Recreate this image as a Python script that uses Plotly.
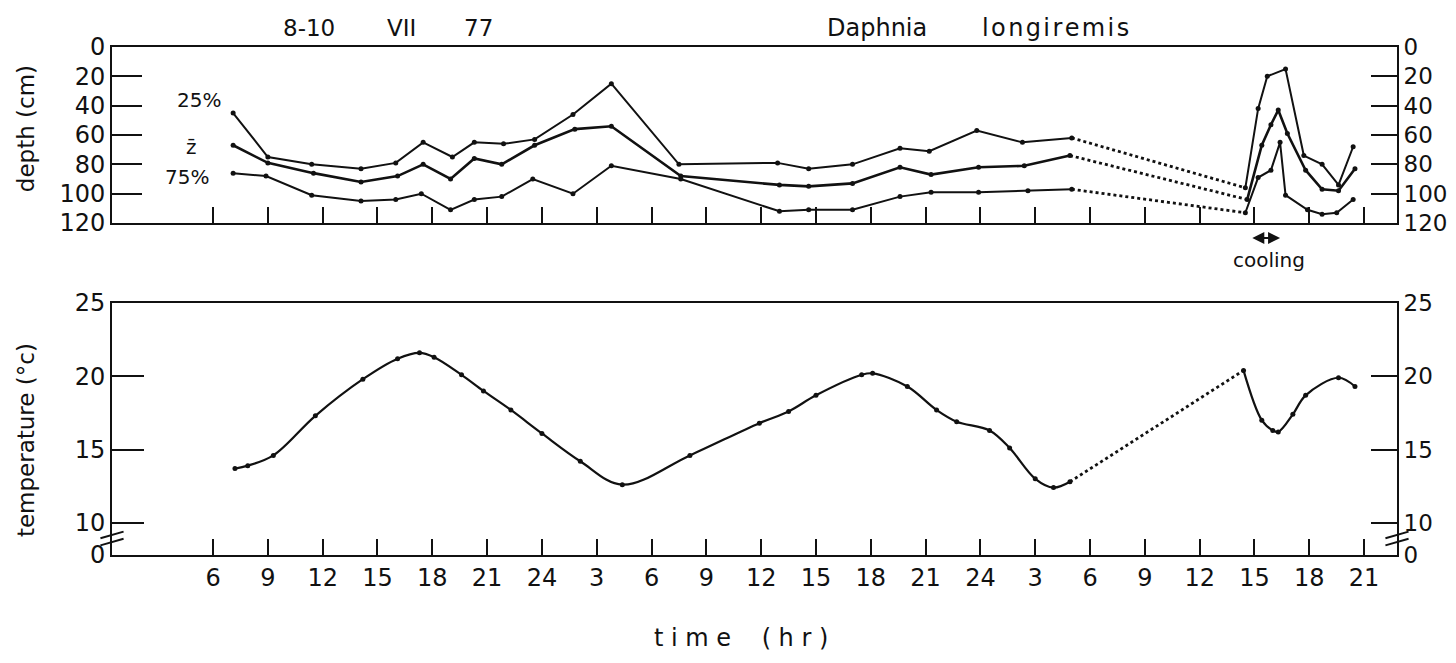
import plotly.graph_objects as go

# time axis: hours counted from 0:00 on 8 VII
tick_hours = [6, 9, 12, 15, 18, 21, 24, 27, 30, 33, 36, 39, 42, 45, 48, 51, 54, 57, 60, 63, 66, 69]
tick_labels = ['6', '9', '12', '15', '18', '21', '24', '3', '6', '9', '12', '15', '18', '21', '24',
               '3', '6', '9', '12', '15', '18', '21']

depth_ticks = [0, 20, 40, 60, 80, 100, 120]
temp_ticks = [7.8, 10, 15, 20, 25]
temp_tick_labels = ['0', '10', '15', '20', '25']

cooling_start, cooling_end = 62.8, 64.4

# depth (cm), first run and run after the gap (cooling experiment)
q25_hours = [7.1, 9.0, 11.4, 14.1, 16.0, 17.5, 19.1, 20.3, 21.9, 23.6, 25.7, 27.8, 31.5,
             36.9, 38.6, 41.0, 43.6, 45.2, 47.8, 50.3, 53.0]
q25_depth = [45, 75, 80, 83, 79, 65, 75, 65, 66, 63, 46, 25, 80, 79, 83, 80, 69, 71, 57, 65, 62]
q25_hours_b = [62.5, 63.2, 63.7, 64.7, 65.7, 66.7, 67.6, 68.4]
q25_depth_b = [96, 42, 20, 15, 74, 80, 94, 68]

mean_hours = [7.1, 9.0, 11.5, 14.1, 16.1, 17.5, 19.0, 20.3, 21.8, 23.6, 25.8, 27.8, 31.6,
              37.0, 38.6, 41.0, 43.6, 45.3, 47.9, 50.4, 52.9]
mean_depth = [67, 79, 86, 92, 88, 80, 90, 76, 80, 67, 56, 54, 88, 94, 95, 93, 82, 87, 82, 81, 74]
mean_hours_b = [62.6, 63.4, 63.9, 64.3, 64.8, 65.8, 66.7, 67.6, 68.5]
mean_depth_b = [104, 67, 53, 43, 59, 84, 97, 98, 83]

q75_hours = [7.1, 8.9, 11.4, 14.1, 16.0, 17.4, 19.0, 20.3, 21.8, 23.5, 25.7, 27.8, 31.6,
             37.0, 38.6, 41.0, 43.6, 45.3, 47.9, 50.6, 53.0]
q75_depth = [86, 88, 101, 105, 104, 100, 111, 104, 102, 90, 100, 81, 90, 112, 111, 111, 102, 99, 99, 98, 97]
q75_hours_b = [62.5, 63.2, 63.9, 64.4, 64.7, 65.9, 66.7, 67.5, 68.4]
q75_depth_b = [113, 89, 84, 65, 101, 111, 114, 113, 104]

# temperature (°C)
temp_hours = [7.2, 7.9, 9.3, 11.6, 14.2, 16.1, 17.3, 18.1, 19.6, 20.8, 22.3, 24.0, 26.1, 28.4,
              32.1, 35.9, 37.5, 39.0, 41.5, 42.1, 44.0, 45.6, 46.7, 48.5, 49.6, 51.0, 52.0, 52.9]
temp_vals = [13.7, 13.9, 14.6, 17.3, 19.8, 21.2, 21.6, 21.3, 20.1, 19.0, 17.7, 16.1, 14.2, 12.6,
             14.6, 16.8, 17.6, 18.7, 20.1, 20.2, 19.3, 17.7, 16.9, 16.3, 15.1, 13.0, 12.4, 12.8]
temp_hours_b = [62.4, 63.4, 64.0, 64.3, 65.1, 65.8, 67.6, 68.5]
temp_vals_b = [20.4, 17.0, 16.3, 16.2, 17.4, 18.7, 19.9, 19.3]

FONT = 'DejaVu Sans'
INK = '#111111'
xr = [0.47, 70.8]

fig = go.Figure()


def add_run(hours, vals, hours_b, vals_b, yax, width=2, shape='linear'):
    xax = 'x' if yax == 'y' else 'x2'
    solid = dict(color=INK, width=width, shape=shape)
    mk = dict(color=INK, size=5)
    fig.add_trace(go.Scatter(x=hours, y=vals, mode='lines+markers', line=solid, marker=mk,
                             xaxis=xax, yaxis=yax, hoverinfo='skip'))
    fig.add_trace(go.Scatter(x=hours_b, y=vals_b, mode='lines+markers', line=solid, marker=mk,
                             xaxis=xax, yaxis=yax, hoverinfo='skip'))
    # dotted bridge over the missing night
    fig.add_trace(go.Scatter(x=[hours[-1], hours_b[0]], y=[vals[-1], vals_b[0]], mode='lines',
                             line=dict(color=INK, width=2.8, dash='dot'),
                             xaxis=xax, yaxis=yax, hoverinfo='skip'))


add_run(q25_hours, q25_depth, q25_hours_b, q25_depth_b, 'y')
add_run(mean_hours, mean_depth, mean_hours_b, mean_depth_b, 'y', width=2.6)
add_run(q75_hours, q75_depth, q75_hours_b, q75_depth_b, 'y')
add_run(temp_hours, temp_vals, temp_hours_b, temp_vals_b, 'y2', width=2.2, shape='spline')

# empty traces so the right-hand axes get drawn
fig.add_trace(go.Scatter(x=[None], y=[None], xaxis='x', yaxis='y3', hoverinfo='skip'))
fig.add_trace(go.Scatter(x=[None], y=[None], xaxis='x2', yaxis='y4', hoverinfo='skip'))

lfont = dict(family=FONT, size=24, color=INK)
rfont = dict(family=FONT, size=23, color=INK)
xcommon = dict(range=xr, tickvals=tick_hours, ticks='inside', ticklen=16, tickwidth=2,
               tickcolor=INK, showline=True, linewidth=2, linecolor=INK, mirror=True,
               showgrid=False, zeroline=False, automargin=False)
depth_ax = dict(range=[120, 0], tickvals=depth_ticks, ticks='inside', tickwidth=2,
                tickcolor=INK, showline=True, linewidth=2, linecolor=INK, showgrid=False,
                zeroline=False, domain=[0.6535, 1], automargin=False)
temp_ax = dict(range=[7.8, 25], tickvals=temp_ticks, ticktext=temp_tick_labels, ticks='inside',
               tickwidth=2, tickcolor=INK, showline=True, linewidth=2, linecolor=INK,
               showgrid=False, zeroline=False, domain=[0, 0.496], automargin=False)

# the page body has an 8px margin, so the figure is a little smaller than the window
fig.update_layout(
    width=1440, height=647,
    margin=dict(l=104, r=51, t=39, b=100),
    paper_bgcolor='white', plot_bgcolor='white',
    showlegend=False,
    font=dict(family=FONT, color=INK),
    xaxis=dict(xcommon, anchor='y', showticklabels=False),
    xaxis2=dict(xcommon, anchor='y2', ticktext=tick_labels,
                tickfont=dict(family=FONT, size=24, color=INK)),
    yaxis=dict(depth_ax, anchor='x', ticklen=30, tickfont=lfont),
    yaxis3=dict(depth_ax, anchor='x', overlaying='y', side='right', ticklen=26, tickfont=rfont),
    yaxis2=dict(temp_ax, anchor='x2', ticklen=32, tickfont=lfont),
    yaxis4=dict(temp_ax, anchor='x2', overlaying='y2', side='right', ticklen=26, tickfont=rfont),
)

hair = '\u200a'
notes = [
    ('8-10', 0.153, 1.037, 23),
    ('VII', 0.225, 1.037, 23),
    ('77', 0.285, 1.037, 23),
    ('Daphnia', 0.595, 1.037, 24),
    (hair.join('longiremis'), 0.734, 1.037, 24),
    ('25%', 0.068, 0.896, 20),
    ('z\u0304', 0.062, 0.803, 20),
    ('75%', 0.058, 0.744, 20),
    ('cooling', 0.900, 0.58, 20),
]
for txt, x, y, size in notes:
    fig.add_annotation(text=txt, x=x, y=y, xref='paper', yref='paper', showarrow=False,
                       xanchor='center', yanchor='middle',
                       font=dict(family=FONT, size=size, color=INK))

fig.add_annotation(text='t i m e &nbsp; &nbsp;( h r )', x=0.4895, y=-0.195, xref='paper',
                   yref='paper', showarrow=False, xanchor='center', yanchor='bottom',
                   font=dict(family=FONT, size=24, color=INK))

# double-headed arrow marking the cooling period
fig.add_annotation(x=cooling_end, y=0.624, ax=cooling_start, ay=0, xref='x', yref='paper',
                   axref='x', ayref='pixel', text='', showarrow=True, arrowside='end+start',
                   arrowhead=2, arrowsize=1.2, arrowwidth=2, arrowcolor=INK)

fig.add_annotation(text='depth (cm)', x=-0.067, y=0.84, xref='paper', yref='paper',
                   xanchor='center', yanchor='middle',
                   showarrow=False, textangle=-90, font=dict(family=FONT, size=23, color=INK))
fig.add_annotation(text='temperature (°c)', x=-0.067, y=0.226, xref='paper', yref='paper',
                   xanchor='center', yanchor='middle',
                   showarrow=False, textangle=-90, font=dict(family=FONT, size=23, color=INK))

# axis break marks on the temperature axes
for x0 in (-0.009, 0.991):
    for dy in (0.0, 0.014):
        fig.add_shape(type='line', xref='paper', yref='paper',
                      x0=x0, y0=0.033 - dy, x1=x0 + 0.018, y1=0.046 - dy,
                      line=dict(color=INK, width=2))

fig.write_html("out.html")
